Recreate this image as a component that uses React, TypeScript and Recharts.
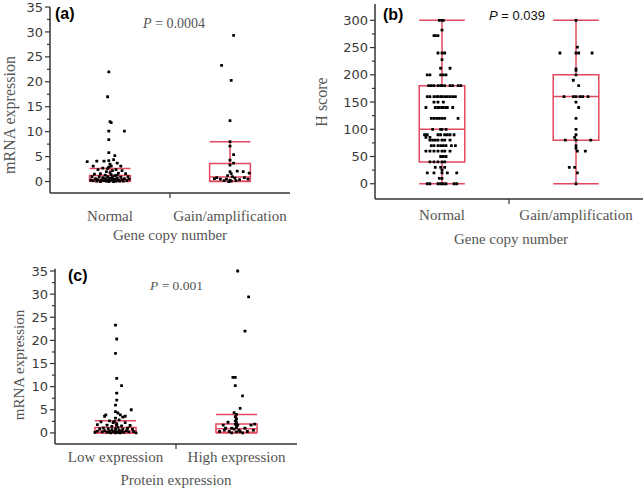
import { ScatterChart, Scatter, XAxis, YAxis, ReferenceArea, ReferenceLine } from 'recharts';

const RED = '#e4485f';
const AXIS = '#333';
const HALF = 0.17; // half box width in category units

type Pt = [number, number]; // [jitter offset from category, value]

// (a) mRNA expression vs gene copy number
const aCategories = ['Normal', 'Gain/amplification'];
const aYTicks = [0, 2.5, 5, 7.5, 10, 12.5, 15, 17.5, 20, 22.5, 25, 27.5, 30, 32.5, 35];
const aNormalBox = [0, 0.05, 0.45, 1.2, 2.6]; // min, q1, median, q3, max
const aGainBox = [0, 0.05, 0.9, 3.6, 8.0];
const aNormal: Pt[] = [
  [-0.01, 22.0], [-0.02, 17.0], [0.0, 12.0], [0.01, 11.8], [-0.01, 10.1], [0.12, 10.1], [-0.01, 8.4], [-0.01, 5.8], [0.04, 5.2], [0.03, 4.4],
  [-0.11, 4.1], [-0.05, 4.1], [-0.19, 4.0], [-0.01, 4.2], [0.06, 3.7], [-0.14, 3.1], [0.09, 3.1], [-0.06, 2.7], [0.05, 2.4], [-0.1, 2.4],
  [0.1, 2.2], [-0.02, 2.6], [0.02, 2.2], [-0.03, 2.0], [0.0, 1.8], [0.13, 1.6], [-0.13, 1.5], [-0.08, 1.6], [0.07, 1.7], [0.01, 1.4],
  [-0.04, 1.3], [0.04, 1.2], [-0.15, 1.0], [0.15, 1.0], [-0.09, 1.0], [0.09, 0.9], [-0.02, 1.0], [0.02, 0.9], [-0.06, 0.8], [0.06, 0.7],
  [-0.12, 0.6], [0.12, 0.6], [0.0, 0.7], [-0.04, 0.6], [0.04, 0.5], [-0.1, 0.4], [0.1, 0.4], [-0.07, 0.3], [0.07, 0.3], [-0.02, 0.4],
  [0.02, 0.3], [-0.14, 0.2], [0.14, 0.2], [-0.05, 0.2], [0.05, 0.1], [0.0, 0.2], [-0.11, 0.1], [0.11, 0.1], [-0.03, 0.1], [0.03, 0.0],
  [-0.08, 0.0], [0.08, 0.1], [-0.16, 0.3], [0.16, 0.5], [0.01, 3.1], [-0.01, 2.9], [0.0, 3.5], [0.02, 0.5], [-0.01, 0.0], [0.06, 1.3],
];
const aGain: Pt[] = [
  [0.03, 29.3], [-0.07, 23.3], [0.01, 20.3], [0.0, 12.2], [0.0, 8.0], [0.0, 7.1], [0.03, 5.4], [0.0, 4.3], [0.03, 3.7], [0.0, 3.3],
  [0.06, 2.1], [0.11, 2.0], [0.16, 1.7], [0.0, 2.0], [0.01, 1.6], [-0.02, 1.2], [0.02, 1.0], [-0.11, 0.8], [-0.13, 0.6], [0.12, 0.8],
  [0.15, 0.5], [0.04, 0.7], [-0.03, 0.5], [0.0, 0.3], [0.01, 0.1], [-0.05, 0.2], [0.05, 0.2], [-0.08, 0.5], [0.08, 0.4], [-0.01, 0.0],
];

// (b) H score vs gene copy number
const bCategories = ['Normal', 'Gain/amplification'];
const bYTicks = [0, 25, 50, 75, 100, 125, 150, 175, 200, 225, 250, 275, 300];
const bNormalBox = [0, 40, 100, 180, 300];
const bGainBox = [0, 80, 160, 200, 300];
const bNormal: Pt[] = [
  [-0.02, 300], [0.0, 300], [0.01, 300], [0.0, 282], [-0.06, 272], [-0.05, 272], [-0.03, 272],
  [-0.03, 240], [0.0, 240], [0.02, 240], [0.0, 228], [-0.01, 212], [0.06, 212],
  [-0.11, 200], [-0.09, 200], [-0.01, 200], [0.01, 200], [0.03, 200],
  [-0.1, 180], [-0.08, 180], [-0.06, 180], [-0.03, 180], [-0.01, 180], [0.0, 180], [0.02, 180], [0.06, 180], [0.08, 180], [0.12, 180], [0.14, 180],
  [-0.11, 160], [-0.09, 160], [-0.06, 160], [-0.04, 160], [-0.03, 160], [-0.01, 160], [0.0, 160], [0.02, 160], [0.04, 160], [0.06, 160], [0.08, 160], [0.1, 160],
  [-0.06, 150], [-0.03, 150], [0.01, 150],
  [-0.12, 140], [-0.05, 140], [-0.03, 140], [-0.02, 140], [0.0, 140], [0.01, 140], [0.03, 140], [0.04, 140], [0.08, 140],
  [-0.08, 120], [-0.06, 120], [-0.04, 120], [-0.02, 120], [0.0, 120], [0.02, 120], [0.12, 120],
  [-0.07, 100], [-0.01, 100], [0.0, 100], [0.03, 100],
  [-0.13, 90], [-0.11, 90], [-0.03, 90], [-0.01, 90], [0.02, 90], [0.04, 90], [0.06, 90], [0.09, 90],
  [-0.12, 85], [-0.09, 85],
  [-0.09, 80], [-0.07, 80], [-0.05, 80], [-0.03, 80], [0.0, 80], [0.02, 80], [0.06, 80],
  [-0.08, 70], [-0.06, 70], [-0.03, 70], [-0.01, 70], [0.01, 70], [0.03, 70], [0.07, 70], [0.1, 70],
  [-0.12, 60], [-0.09, 60], [-0.06, 60], [-0.03, 60], [0.0, 60], [0.02, 60], [0.06, 60],
  [-0.01, 50], [0.01, 50], [0.03, 50],
  [-0.09, 40], [-0.06, 40], [-0.03, 40], [0.0, 40], [0.02, 40],
  [-0.05, 30], [-0.01, 30], [0.02, 30], [0.0, 25],
  [-0.11, 20], [-0.06, 20], [0.0, 20], [0.04, 20], [0.11, 20],
  [-0.02, 10], [0.0, 10],
  [-0.11, 0], [-0.09, 0], [-0.03, 0], [-0.01, 0], [0.01, 0], [0.03, 0], [0.09, 0], [0.11, 0],
];
const bGain: Pt[] = [
  [0.0, 300], [0.01, 251], [-0.12, 240], [0.0, 240], [0.02, 240], [0.12, 240], [0.0, 211], [0.0, 208], [0.0, 200], [-0.02, 190],
  [0.02, 180], [-0.09, 160], [-0.02, 160], [0.0, 160], [0.03, 160], [0.05, 160], [0.09, 160], [0.0, 150], [0.02, 140], [0.0, 120],
  [0.0, 100], [0.0, 90], [-0.01, 85], [-0.08, 80], [0.0, 80], [0.11, 80], [0.0, 70], [0.0, 65], [0.01, 60], [0.07, 60],
  [-0.05, 30], [-0.01, 30], [0.01, 20], [0.0, 0],
];

// (c) mRNA expression vs protein expression
const cCategories = ['Low expression', 'High expression'];
const cYTicks = [0, 2.5, 5, 7.5, 10, 12.5, 15, 17.5, 20, 22.5, 25, 27.5, 30, 32.5, 35];
const cLowBox = [0, 0.05, 0.4, 1.15, 2.6];
const cHighBox = [0, 0.15, 0.9, 1.9, 4.0];
const cLow: Pt[] = [
  [0.0, 23.3], [0.01, 20.3], [0.0, 17.2], [0.01, 11.8], [0.05, 10.2], [0.01, 8.6], [0.01, 7.1], [0.0, 6.0], [0.0, 4.6], [0.13, 5.0],
  [-0.08, 3.9], [-0.09, 3.6], [0.02, 4.3], [0.04, 3.9], [0.06, 3.4], [0.0, 3.2], [-0.12, 2.4], [-0.05, 2.6], [0.03, 2.8], [0.08, 2.2],
  [-0.02, 2.2], [0.01, 2.0], [-0.15, 1.8], [0.12, 1.6], [-0.07, 1.7], [0.05, 1.5], [-0.03, 1.4], [0.02, 1.2], [-0.1, 1.1], [0.1, 1.0],
  [-0.13, 0.9], [0.14, 0.8], [-0.06, 0.9], [0.06, 0.8], [0.0, 0.9], [-0.03, 0.7], [0.03, 0.6], [-0.09, 0.5], [0.09, 0.5], [-0.15, 0.4],
  [0.15, 0.3], [0.0, 0.4], [-0.05, 0.3], [0.05, 0.3], [-0.11, 0.2], [0.11, 0.2], [-0.02, 0.2], [0.02, 0.1], [-0.07, 0.1], [0.07, 0.1],
  [-0.17, 0.1], [0.17, 0.0], [0.0, 0.0], [-0.04, 0.0], [0.04, 0.0], [0.01, 1.7], [-0.01, 2.5], [0.08, 3.6],
];
const cHigh: Pt[] = [
  [0.01, 35.0], [0.1, 29.4], [0.07, 22.0], [-0.01, 12.0], [-0.03, 12.0], [-0.01, 10.2], [0.05, 8.0], [0.03, 5.3], [-0.02, 4.4], [0.0, 4.0],
  [-0.07, 2.3], [-0.01, 3.5], [0.0, 3.0], [-0.01, 2.6], [0.0, 2.2], [-0.01, 1.9], [0.0, 1.6], [-0.11, 1.7], [-0.09, 1.0], [-0.04, 1.0],
  [0.01, 1.7], [0.07, 1.0], [0.12, 1.7], [0.14, 0.6], [-0.14, 0.3], [-0.06, 0.3], [0.03, 0.3], [0.09, 0.3], [0.0, 1.2], [-0.02, 0.8],
  [0.02, 0.6], [0.0, 0.2], [-0.1, 0.6], [0.05, 0.0], [-0.04, 0.0], [0.15, 1.9],
];

const toPoints = (center: number, pts: Pt[]) => pts.map(([dx, v]) => ({ x: center + dx, y: v }));

const Dot = (props: any) => (
  <rect x={props.cx - 1.4} y={props.cy - 1.4} width={2.8} height={2.8} rx={0.5} fill="#000" />
);

// box, median, whiskers and caps drawn with the chart's own scales
function boxParts(center: number, stats: number[], key: string) {
  const [min, q1, med, q3, max] = stats;
  const l = center - HALF;
  const r = center + HALF;
  const line = { stroke: RED, strokeWidth: 1.5, ifOverflow: 'visible' as const };
  return [
    <ReferenceArea key={key + 'box'} x1={l} x2={r} y1={q1} y2={q3} fill="none" fillOpacity={0} stroke={RED} strokeWidth={1.5} strokeOpacity={1} ifOverflow="visible" />,
    <ReferenceLine key={key + 'med'} segment={[{ x: l, y: med }, { x: r, y: med }]} {...line} />,
    <ReferenceLine key={key + 'hi'} segment={[{ x: center, y: q3 }, { x: center, y: max }]} {...line} />,
    <ReferenceLine key={key + 'lo'} segment={[{ x: center, y: min }, { x: center, y: q1 }]} {...line} />,
    <ReferenceLine key={key + 'capHi'} segment={[{ x: l, y: max }, { x: r, y: max }]} {...line} />,
    <ReferenceLine key={key + 'capLo'} segment={[{ x: l, y: min }, { x: r, y: min }]} {...line} />,
  ];
}

const makeYTick = (step: number) => (props: any) => {
  const { x, y, payload } = props;
  const v = payload.value;
  const major = Math.abs(v / step - Math.round(v / step)) < 1e-6;
  return (
    <g>
      <line x1={x - (major ? 5 : 3)} x2={x} y1={y} y2={y} stroke={AXIS} strokeWidth={1.2} />
      {major && (
        <text x={x - 7} y={y} dy={4.6} textAnchor="end" fontFamily="DejaVu Sans" fontSize={13} fill="#3a3a3a">
          {v}
        </text>
      )}
    </g>
  );
};

const makeXTick = (labels: string[], dy: number) => (props: any) => {
  const { x, y, payload } = props;
  const v = payload.value;
  if (v === 1 || v === 2) {
    return (
      <text x={x} y={y + dy} textAnchor="middle" fontFamily="Liberation Serif" fontSize={15} fill="#555">
        {labels[v - 1]}
      </text>
    );
  }
  return <line x1={x} x2={x} y1={y} y2={y + 5} stroke={AXIS} strokeWidth={1.2} />;
};

type PanelProps = {
  width: number;
  height: number;
  top: number;
  right: number;
  yWidth: number;
  xHeight: number;
  yDomain: number[];
  yTicks: number[];
  yStep: number;
  categories: string[];
  catDy: number;
  groups: { points: Pt[]; box: number[] }[];
};

function Panel(p: PanelProps) {
  return (
    <ScatterChart width={p.width} height={p.height} margin={{ top: p.top, right: p.right, bottom: 0, left: 0 }}>
      <XAxis
        type="number"
        dataKey="x"
        domain={[0.5, 2.5]}
        ticks={[1, 1.5, 2]}
        interval={0}
        height={p.xHeight}
        tickSize={0}
        tickMargin={0}
        tickLine={false}
        axisLine={{ stroke: AXIS, strokeWidth: 1.5 }}
        tick={makeXTick(p.categories, p.catDy)}
        allowDataOverflow
      />
      <YAxis
        type="number"
        dataKey="y"
        domain={p.yDomain}
        ticks={p.yTicks}
        interval={0}
        width={p.yWidth}
        tickSize={0}
        tickMargin={0}
        tickLine={false}
        axisLine={{ stroke: AXIS, strokeWidth: 1.5 }}
        tick={makeYTick(p.yStep)}
        allowDataOverflow
      />
      {p.groups.map((g, i) => boxParts(i + 1, g.box, 'g' + i))}
      {p.groups.map((g, i) => (
        <Scatter key={'s' + i} data={toPoints(i + 1, g.points)} shape={Dot} isAnimationActive={false} />
      ))}
    </ScatterChart>
  );
}

const serif = 'Liberation Serif';

export default function App() {
  return (
    <div style={{ position: 'absolute', left: 0, top: 0, width: 643, height: 492, background: '#fff', overflow: 'hidden' }}>
      <div style={{ position: 'absolute', left: 0, top: 0 }}>
        <Panel
          width={320} height={250} top={7} right={30} yWidth={50} xHeight={57}
          yDomain={[-2.3, 35]} yTicks={aYTicks} yStep={5}
          categories={aCategories} catDy={28}
          groups={[{ points: aNormal, box: aNormalBox }, { points: aGain, box: aGainBox }]}
        />
      </div>
      <div style={{ position: 'absolute', left: 310, top: 0 }}>
        <Panel
          width={333} height={260} top={4} right={0} yWidth={65} xHeight={61}
          yDomain={[-28, 330]} yTicks={bYTicks} yStep={50}
          categories={bCategories} catDy={21}
          groups={[{ points: bNormal, box: bNormalBox }, { points: bGain, box: bGainBox }]}
        />
      </div>
      <div style={{ position: 'absolute', left: 0, top: 250 }}>
        <Panel
          width={320} height={242} top={18.7} right={23} yWidth={55} xHeight={48}
          yDomain={[-2.4, 35.5]} yTicks={cYTicks} yStep={5}
          categories={cCategories} catDy={18}
          groups={[{ points: cLow, box: cLowBox }, { points: cHigh, box: cHighBox }]}
        />
      </div>
      <svg width={643} height={492} style={{ position: 'absolute', left: 0, top: 0, pointerEvents: 'none' }}>
        <g fontFamily="Liberation Sans" fontWeight="bold" fontSize={16} fill="#000">
          <text x={55} y={19}>(a)</text>
          <text x={383} y={20}>(b)</text>
          <text x={68} y={281}>(c)</text>
        </g>
        <text x={143} y={28} fontFamily={serif} fontSize={14} fill="#555">
          <tspan fontStyle="italic">P</tspan> = 0.0004
        </text>
        <text x={489} y={20} fontFamily="Liberation Sans" fontSize={13} fill="#111">
          <tspan fontStyle="italic">P</tspan> = 0.039
        </text>
        <text x={150} y={290} fontFamily={serif} fontSize={13.5} fill="#555">
          <tspan fontStyle="italic">P</tspan> = 0.001
        </text>
        <g fontFamily={serif} fill="#555" textAnchor="middle">
          <text x={170} y={240} fontSize={15}>Gene copy number</text>
          <text x={511} y={244} fontSize={15}>Gene copy number</text>
          <text x={176} y={485} fontSize={15}>Protein expression</text>
          <text transform="translate(15,115) rotate(-90)" fontSize={16}>mRNA expression</text>
          <text transform="translate(327,102) rotate(-90)" fontSize={16}>H score</text>
          <text transform="translate(24,365) rotate(-90)" fontSize={15}>mRNA expression</text>
        </g>
      </svg>
    </div>
  );
}
